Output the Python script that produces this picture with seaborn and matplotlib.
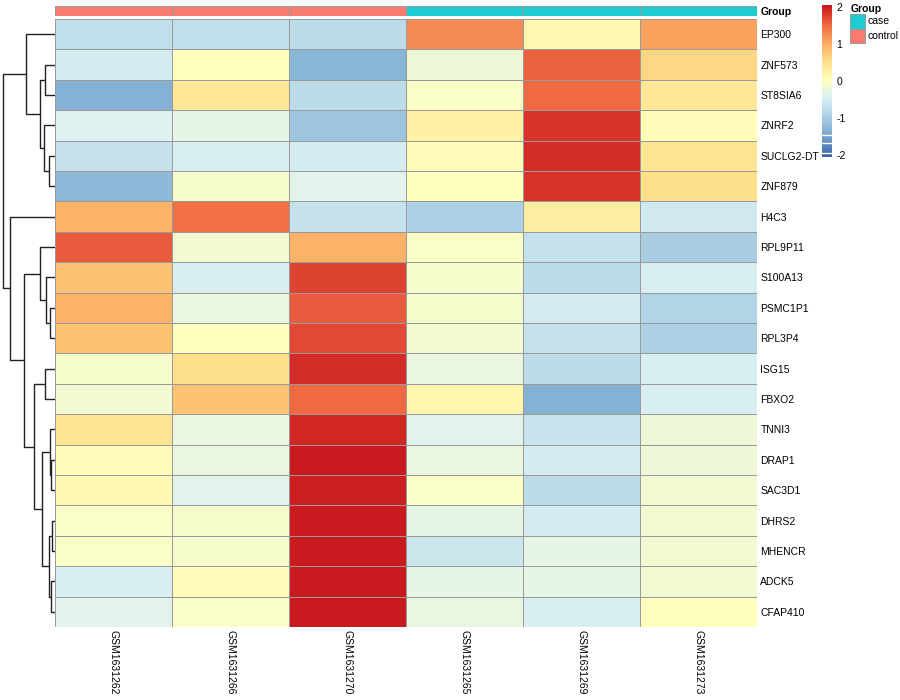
import matplotlib
matplotlib.use("Agg")
import matplotlib.pyplot as plt
import numpy as np
import pandas as pd
import seaborn as sns
from matplotlib.colors import LinearSegmentedColormap, ListedColormap, Normalize
from matplotlib.cm import ScalarMappable
from matplotlib.patches import Rectangle

sns.set_theme(style="white")
plt.rcParams["font.family"] = ["Liberation Sans", "DejaVu Sans"]
plt.rcParams["axes.unicode_minus"] = False
plt.rcParams["text.color"] = "black"
plt.rcParams["xtick.color"] = "black"
plt.rcParams["ytick.color"] = "black"

# ---- data (row-scaled expression) ----
genes = ["EP300", "ZNF573", "ST8SIA6", "ZNRF2", "SUCLG2-DT", "ZNF879", "H4C3",
         "RPL9P11", "S100A13", "PSMC1P1", "RPL3P4", "ISG15", "FBXO2", "TNNI3",
         "DRAP1", "SAC3D1", "DHRS2", "MHENCR", "ADCK5", "CFAP410"]
samples = ["GSM1631262", "GSM1631266", "GSM1631270",
           "GSM1631265", "GSM1631269", "GSM1631273"]
groups = ["control", "control", "control", "case", "case", "case"]

GSM1631262 = [-0.75, -0.5, -1.35, -0.4, -0.7, -1.25, 0.95, 1.6, 0.8, 0.95,
              0.8, -0.1, -0.15, 0.45, 0.05, 0.1, -0.05, -0.05, -0.45, -0.35]
GSM1631266 = [-0.75, 0.0, 0.4, -0.3, -0.45, -0.1, 1.45, -0.15, -0.45, -0.25,
              0.0, 0.5, 0.8, -0.25, -0.25, -0.35, -0.1, -0.1, 0.05, -0.05]
GSM1631270 = [-0.8, -1.3, -0.8, -1.1, -0.5, -0.35, -0.7, 0.95, 1.75, 1.6,
              1.7, 1.9, 1.5, 1.95, 2.03, 2.0, 2.03, 2.03, 2.03, 2.03]
GSM1631265 = [1.25, -0.2, -0.05, 0.25, 0.05, 0.0, -0.95, -0.05, -0.1, -0.1,
              -0.15, -0.25, 0.15, -0.35, -0.25, -0.05, -0.3, -0.6, -0.3, -0.25]
GSM1631269 = [0.1, 1.55, 1.5, 1.85, 1.9, 1.85, 0.3, -0.7, -0.8, -0.5,
              -0.7, -0.8, -1.35, -0.65, -0.5, -0.8, -0.5, -0.3, -0.3, -0.45]
GSM1631273 = [1.1, 0.6, 0.4, 0.05, 0.45, 0.5, -0.55, -1.0, -0.45, -0.9,
              -0.95, -0.45, -0.45, -0.2, -0.2, -0.15, -0.15, -0.15, -0.15, 0.0]

# row dendrogram: (left, right, height), leaves are row indices in display order
row_tree = (
    (0, ((1, 2, 9.5), (3, (4, 5, 6.2), 11.2), 14.5), 28.5),
    (6,
     ((7, (8, (9, 10, 5.2), 8.5), 14.5),
      ((11, 12, 9.5),
       ((13, (14, 15, 3.8), 5.2), ((16, 17, 2.8), (18, 19, 3.8), 6.2), 13.2),
       21.2),
      30.5),
     44.5),
    51.8,
)

group_levels = ["case", "control"]
group_colors = {"case": "#1ECBD0", "control": "#F87B72"}

mat = pd.DataFrame(
    {"GSM1631262": GSM1631262, "GSM1631266": GSM1631266, "GSM1631270": GSM1631270,
     "GSM1631265": GSM1631265, "GSM1631269": GSM1631269, "GSM1631273": GSM1631273},
    index=genes,
)[samples]

vmin, vmax = -2.05, 2.05
anchors = [(-2.05, "#3B64A8"), (-1.4, "#80AED2"), (-0.8, "#BCDCEA"), (-0.4, "#DDF1F2"),
           (0.0, "#FFFFBF"), (0.5, "#FEE18C"), (1.0, "#FBAF63"), (1.5, "#F06A43"),
           (1.85, "#D8342A"), (2.05, "#C8181E")]
cmap = LinearSegmentedColormap.from_list(
    "rdylbu_ph", [((v - vmin) / (vmax - vmin), c) for v, c in anchors])

W, H = 900, 700


def rect(x0, y0, x1, y1):
    return [x0 / W, 1 - y1 / H, (x1 - x0) / W, (y1 - y0) / H]


fig = plt.figure(figsize=(9, 7), dpi=100)
fig.patch.set_facecolor("white")

grid_kw = dict(linewidths=0.7, linecolor="#9A9A9A")
fs = 7.5

# main heatmap
ax = fig.add_axes(rect(55, 19, 757, 627))
sns.heatmap(mat, cmap=cmap, vmin=vmin, vmax=vmax, cbar=False, ax=ax, **grid_kw)
ax.yaxis.tick_right()
ax.set_yticks(np.arange(len(genes)) + 0.5)
ax.set_yticklabels(genes, rotation=0, fontsize=fs)
ax.set_xticks(np.arange(len(samples)) + 0.5)
ax.set_xticklabels(samples, rotation=270, fontsize=fs, va="top", ha="center")
ax.tick_params(length=0, pad=2.5)
ax.set_xlabel("")
ax.set_ylabel("")

# group annotation bar
ann = fig.add_axes(rect(55, 5.5, 757, 16))
codes = pd.DataFrame([[group_levels.index(g) for g in groups]], columns=samples)
sns.heatmap(codes, cmap=ListedColormap([group_colors[l] for l in group_levels]),
            vmin=-0.5, vmax=1.5, cbar=False, ax=ann, **grid_kw)
ann.set_xticks([])
ann.yaxis.tick_right()
ann.set_yticks([0.5])
ann.set_yticklabels(["Group"], rotation=0, fontsize=fs, fontweight="bold")
ann.tick_params(length=0, pad=2.5)
ann.set_xlabel("")
ann.set_ylabel("")

# row dendrogram
dax = fig.add_axes(rect(2, 19, 55, 627))


def draw_tree(node):
    if isinstance(node, int):
        return node + 0.5, 0.0
    left, right, h = node
    yl, hl = draw_tree(left)
    yr, hr = draw_tree(right)
    dax.plot([hl, h, h, hr], [yl, yl, yr, yr], color="#222222", lw=1.0,
             solid_capstyle="butt")
    return (yl + yr) / 2, h


draw_tree(row_tree)
dax.set_ylim(len(genes), 0)
dax.set_xlim(52.8, 0)
dax.axis("off")

# colour legend
cax = fig.add_axes(rect(822, 5, 832, 157))
cb = fig.colorbar(ScalarMappable(norm=Normalize(vmin, vmax), cmap=cmap), cax=cax)
cb.outline.set_visible(False)
cb.set_ticks([-2, -1, 0, 1, 2])
cb.ax.tick_params(length=0, labelsize=fs, pad=3)
for v in [-1.46, -1.68, -1.95]:
    cax.axhline(v, color="white", lw=1.0)

# group legend, drawn in figure pixels
leg = fig.add_axes([0, 0, 1, 1])
leg.set_xlim(0, W)
leg.set_ylim(H, 0)
leg.axis("off")
leg.text(851, 9.5, "Group", fontsize=fs, fontweight="bold", va="center", ha="left")
for i, l in enumerate(group_levels):
    y0 = 14 + i * 14.5
    leg.add_patch(Rectangle((850, y0), 15, 14.5, facecolor=group_colors[l],
                            edgecolor="#9A9A9A", lw=0.7))
    leg.text(868, y0 + 7.2, l, fontsize=fs, va="center", ha="left")

fig.savefig("out.png", dpi=100, facecolor="white")
